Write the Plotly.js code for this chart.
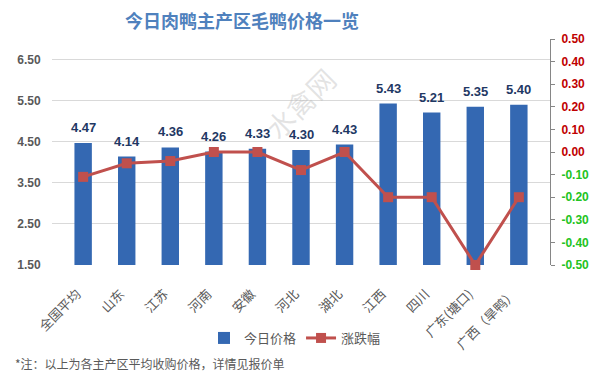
<!DOCTYPE html>
<html>
<head>
<meta charset="utf-8">
<script src="https://cdn.plot.ly/plotly-3.0.1.min.js"></script>
<style>html,body{margin:0;padding:0;background:#fff;}#chart{width:596px;height:389px;}</style>
</head>
<body>
<div id="chart"></div>
<script>
const categories = ["全国平均","山东","江苏","河南","安徽","河北","湖北","江西","四川","广东(塘口)","广西（旱鸭）"];
const prices = [4.47, 4.14, 4.36, 4.26, 4.33, 4.30, 4.43, 5.43, 5.21, 5.35, 5.40];
const changes = [-0.11, -0.05, -0.04, 0.00, 0.00, -0.08, 0.00, -0.20, -0.20, -0.50, -0.20];
const leftTicks = [1.5, 2.5, 3.5, 4.5, 5.5, 6.5];
const rightTicks = [-0.5, -0.4, -0.3, -0.2, -0.1, 0.0, 0.1, 0.2, 0.3, 0.4, 0.5];

const rightTickText = rightTicks.map(v => {
  const col = v < 0 ? '#22c322' : '#c00000';
  return '<span style="color:' + col + '">' + v.toFixed(2) + '</span>';
});

const font = 'Liberation Sans, Arial, "Noto Sans CJK SC", sans-serif';
const cjk = '"Noto Sans CJK SC", "Liberation Sans", sans-serif';

const traces = [
  {
    type: 'bar', name: '今日价格', x: categories, y: prices,
    width: 0.4,
    marker: {color: '#3468b2'},
    yaxis: 'y'
  },
  {
    type: 'scatter', mode: 'lines+markers', name: '涨跌幅', x: categories, y: changes,
    line: {color: '#c0504d', width: 3},
    marker: {symbol: 'square', size: 10, color: '#c0504d'},
    cliponaxis: false, yaxis: 'y2'
  }
];

const labelAnns = categories.map((c, i) => ({
  text: prices[i].toFixed(2), x: c, y: prices[i], xref: 'x', yref: 'y',
  xanchor: 'center', yanchor: 'bottom', yshift: 6, showarrow: false,
  font: {family: font, size: 13, color: '#1f3864', weight: 'bold'}
}));

const layout = {
  width: 596, height: 389,
  margin: {l: 52, r: 46, t: 39, b: 124},
  paper_bgcolor: '#ffffff', plot_bgcolor: '#ffffff',
  showlegend: true,
  title: {
    text: '今日肉鸭主产区毛鸭价格一览',
    font: {family: cjk, size: 18, color: '#4f81bd', weight: 'bold'},
    x: 0.406, xanchor: 'center', xref: 'container',
    y: 0.943, yanchor: 'middle', yref: 'container'
  },
  xaxis: {
    type: 'category', tickangle: -45,
    tickfont: {family: cjk, size: 13, color: '#595959'},
    showgrid: false, zeroline: false, showline: false, ticks: '',
    ticklabelstandoff: 18, ticklabelshift: -6
  },
  yaxis: {
    range: [1.5, 7.0], tickvals: leftTicks,
    ticktext: leftTicks.map(v => v.toFixed(2)),
    tickfont: {family: font, size: 12, color: '#595959', weight: 'bold'},
    showgrid: true, gridcolor: '#d9d9d9', gridwidth: 1,
    zeroline: false, showline: false,
    ticks: 'outside', ticklen: 8, tickcolor: 'rgba(0,0,0,0)'
  },
  yaxis2: {
    overlaying: 'y', side: 'right',
    range: [-0.5, 0.5], tickvals: rightTicks, ticktext: rightTickText,
    tickfont: {family: font, size: 12, color: '#c00000', weight: 'bold'},
    showgrid: false, zeroline: false,
    showline: true, linecolor: '#868686', linewidth: 1,
    ticks: 'outside', ticklen: 4, tickcolor: '#868686',
    ticklabelstandoff: 4
  },
  legend: {
    orientation: 'h', x: 0.488, xanchor: 'center', y: -0.323, yanchor: 'middle',
    font: {family: cjk, size: 13, color: '#595959'},
    bgcolor: 'rgba(0,0,0,0)', itemwidth: 30
  },
  annotations: [
    {
      text: '水禽网',
      xref: 'paper', yref: 'paper', x: 0.498, y: 0.717,
      xanchor: 'center', yanchor: 'middle', showarrow: false, textangle: -45,
      font: {family: cjk, size: 28, color: 'rgba(175,175,175,0.35)'}
    },
    {
      text: '*注：以上为各主产区平均收购价格，详情见报价单',
      xref: 'paper', yref: 'paper', x: -0.078, y: -0.434,
      xanchor: 'left', yanchor: 'middle', showarrow: false,
      font: {family: cjk, size: 12, color: '#595959'}
    }
  ].concat(labelAnns)
};

Plotly.newPlot('chart', traces, layout, {displayModeBar: false, staticPlot: true});
</script>
</body>
</html>
